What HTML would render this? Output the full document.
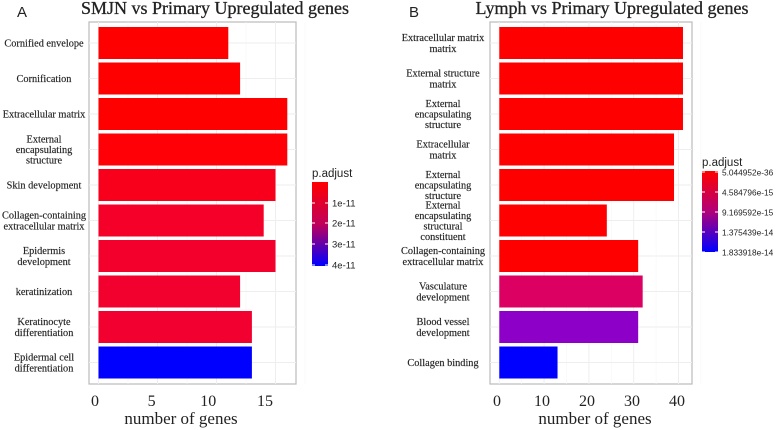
<!DOCTYPE html>
<html><head><meta charset="utf-8"><style>
body{margin:0;background:#fff}
svg{display:block}
text{font-family:"Liberation Serif",serif;fill:#222}
.sans{font-family:"Liberation Sans",sans-serif}
</style></head><body>
<svg id="chart" width="778" height="430" viewBox="0 0 778 430" xmlns="http://www.w3.org/2000/svg">
<defs>
<linearGradient id="gA" x1="0" y1="0" x2="0" y2="1"><stop offset="0" stop-color="#ff0000"/><stop offset="0.5" stop-color="#c0005a"/><stop offset="1" stop-color="#0000ff"/></linearGradient>
<linearGradient id="gB" x1="0" y1="0" x2="0" y2="1"><stop offset="0" stop-color="#ff0000"/><stop offset="0.5" stop-color="#b0007a"/><stop offset="1" stop-color="#0000ff"/></linearGradient>
</defs>
</svg>
<script>
const catsA=["Cornified envelope","Cornification","Extracellular matrix","External|encapsulating|structure","Skin development","Collagen-containing|extracellular matrix","Epidermis|development","keratinization","Keratinocyte|differentiation","Epidermal cell|differentiation"];
const valsA=[11,12,16,16,15,14,15,12,13,13];
const colsA=["#ff0000","#ff0000","#ff0000","#fe0006","#f8001c","#f40028","#f3002c","#f2002e","#f2002f","#0000ff"];
const ticksA=[0,5,10,15];
const legA=["1e-11","2e-11","3e-11","4e-11"];
const catsB=["Extracellular matrix|matrix","External structure|matrix","External|encapsulating|structure","Extracellular|matrix","External|encapsulating|structure","External|encapsulating|structural|constituent","Collagen-containing|extracellular matrix","Vasculature|development","Blood vessel|development","Collagen binding"];
const valsB=[41,41,41,39,39,24,31,32,31,13];
const colsB=["#ff0000","#ff0000","#ff0000","#ff0000","#ff0000","#ff0000","#ff0000","#dc0062","#8c00c8","#0000ff"];
const ticksB=[0,10,20,30,40];
const legB=["5.044952e-36","4.584796e-15","9.169592e-15","1.375439e-14","1.833918e-14"];

const svg=document.getElementById('chart');
const NS="http://www.w3.org/2000/svg";
function mk(tag,attrs,parent){const e=document.createElementNS(NS,tag);for(const k in attrs)e.setAttribute(k,attrs[k]);(parent||svg).appendChild(e);return e;}

function panel(p){
  const g=mk('g',{});
  
  
  const xs=v=>p.x0+v*p.unit;
  const y0=27,pitch=35.5,bh=32;
  const box=mk('rect',{x:p.bx0,y:22,width:p.bx1-p.bx0,height:362,fill:'#fff',stroke:'#bbb','stroke-width':1.2},g);
  
  p.ticks.forEach(t=>{mk('line',{x1:xs(t),x2:xs(t),y1:22,y2:384,stroke:'#eee','stroke-width':1},g);
    mk('line',{x1:xs(t+p.ticks[1]/2),x2:xs(t+p.ticks[1]/2),y1:22,y2:384,stroke:'#f6f6f6','stroke-width':0.6},g);});
  p.cats.forEach((c,i)=>{
    const yc=y0+i*pitch+bh/2;
    mk('line',{x1:p.bx0,x2:p.bx1,y1:yc,y2:yc,stroke:'#eee','stroke-width':1},g);
  });
  p.cats.forEach((c,i)=>{
    const y=y0+i*pitch;
    const r=mk('rect',{x:xs(0),y:y,width:xs(p.vals[i])-xs(0),height:bh,fill:p.cols[i]},g);
    
    
    const lines=c.split('|');
    const lh=lines.length>2?10.5:11;
    const t=mk('text',{x:p.lx,'font-size':10.3,'text-anchor':'middle','stroke':'#222','stroke-width':0.15},g);
    
    
    const yc=y+bh/2-(lines.length-1)*lh/2+3.5;
    lines.forEach((l,j)=>{const ts=mk('tspan',{x:p.lx,y:yc+j*lh},t);ts.textContent=l;});
  });
  p.ticks.forEach(t=>{
    const tx=mk('text',{x:p.tlx(t),y:406,'font-size':16,'text-anchor':'middle'},g);
    tx.textContent=t;
    
    
  });
  const xt=mk('text',{x:p.xtx,y:424,'font-size':17,'text-anchor':'middle'},g);
  xt.textContent='number of genes';
  
  
  const ti=mk('text',{x:p.tix,y:14,'font-size':18,'text-anchor':'middle','stroke':'#222','stroke-width':0.3},g);
  ti.textContent=p.title;
  
  
  const pl=mk('text',{x:p.plx,y:17,'font-size':15,class:'sans'},g);
  pl.textContent=p.letter;
  
  
  const lg=mk('g',{},g);
  
  
  const lt=mk('text',{x:p.lgx,y:p.lgy0-5,'font-size':11.5,class:'sans'},lg);
  lt.textContent='p.adjust';
  mk('rect',{x:p.lgx,y:p.lgy0,width:16,height:p.lgy1-p.lgy0,fill:p.grad},lg);
  p.leg.forEach((l,i)=>{
    const y=p.legYs[i];
    mk('line',{x1:p.lgx,x2:p.lgx+3,y1:y,y2:y,stroke:'#fff'},lg);
    mk('line',{x1:p.lgx+13,x2:p.lgx+16,y1:y,y2:y,stroke:'#fff'},lg);
    const t=mk('text',{x:p.lgx+20,y:y+3.5,'font-size':p.lfs,class:'sans','fill':'#333'},lg);
    t.textContent=l;
  });
}
panel({name:'panel-a',cats:catsA,vals:valsA,cols:colsA,ticks:ticksA,leg:legA,x0:98.5,unit:11.8,bx0:89,bx1:296,lx:44,
  tlx:t=>95+t*11.33,xtx:181,tix:215,title:'SMJN vs Primary Upregulated genes',letter:'A',plx:17,
  lgx:312,lgy0:182,lgy1:266,grad:'url(#gA)',legYs:[203,223,244,265],lfs:9.5});
panel({name:'panel-b',cats:catsB,vals:valsB,cols:colsB,ticks:ticksB,leg:legB,x0:499.3,unit:4.48,bx0:490,bx1:692,lx:443,
  tlx:t=>497+t*4.5,xtx:595,tix:612,title:'Lymph vs Primary Upregulated genes',letter:'B',plx:409,
  lgx:702,lgy0:171,lgy1:252,grad:'url(#gB)',legYs:[172,192,212,232,252],lfs:8.3});
</script>
</body></html>
